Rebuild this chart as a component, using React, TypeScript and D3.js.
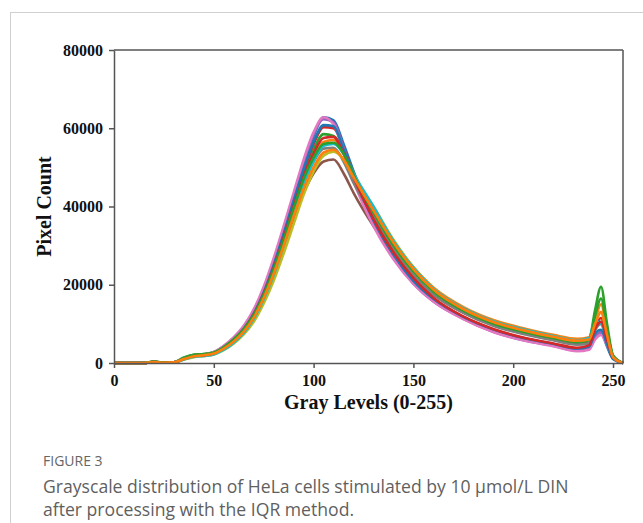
import React, { useEffect, useRef } from 'react';
import * as d3 from 'd3';

const grayLevels = [0, 15, 20, 24, 30, 35, 40, 45, 50, 55, 60, 65, 70, 75, 80, 85, 90, 95, 100, 105, 110, 115, 120, 130, 140, 150, 160, 175, 190, 205, 220, 232, 238, 241, 244, 247, 250, 255];
const xTicks = [0, 50, 100, 150, 200, 250];
const yTicks = [0, 20000, 40000, 60000, 80000];

const blue1 = [0, 0, 300, 100, 150, 1200, 1900, 2100, 2600, 4100, 6200, 9000, 13000, 18500, 25500, 33500, 42000, 50500, 58000, 62800, 62000, 56000, 49000, 36500, 27500, 20800, 16000, 11600, 8400, 6200, 4700, 3300, 3800, 6500, 7800, 4200, 1000, 0];
const orange1 = [0, 0, 250, 80, 150, 1000, 1700, 2000, 2400, 3700, 5500, 8000, 11500, 16500, 22500, 30000, 38000, 45500, 52000, 56500, 57000, 54000, 48500, 39500, 31000, 24500, 19300, 14300, 11000, 8900, 7200, 6200, 6600, 11000, 15000, 8000, 1800, 0];
const green1 = [0, 0, 350, 120, 200, 1400, 2100, 2300, 2800, 4200, 6200, 8800, 12500, 17800, 24500, 32000, 40000, 48000, 54500, 58500, 58000, 54500, 48500, 38500, 30000, 23500, 18500, 13700, 10400, 8300, 6600, 5600, 6000, 13500, 19500, 10000, 2000, 0];
const red1 = [0, 0, 300, 100, 150, 1100, 1800, 2000, 2600, 4000, 6000, 8800, 12800, 18200, 25000, 33000, 41000, 49000, 56000, 60300, 60000, 55000, 48000, 36000, 27200, 21000, 16200, 11500, 8200, 6000, 4500, 3500, 4200, 9000, 11500, 6500, 1500, 0];
const purple1 = [0, 0, 300, 100, 150, 1200, 2000, 2200, 2700, 4300, 6400, 9300, 13400, 19000, 26000, 34000, 42500, 51000, 58500, 62300, 61500, 55000, 47500, 35500, 26800, 20300, 15700, 11300, 8000, 5800, 4400, 3200, 3600, 6500, 8000, 5000, 1500, 0];
const brown1 = [0, 0, 250, 80, 150, 1000, 1700, 1900, 2400, 3700, 5600, 8200, 11800, 16800, 23000, 30000, 37000, 43500, 48500, 51500, 52000, 48500, 43500, 35000, 27800, 22000, 17500, 12900, 9700, 7700, 6000, 4900, 5200, 8500, 10500, 6000, 1500, 0];
const pink1 = [0, 0, 300, 120, 200, 1300, 2000, 2200, 2800, 4400, 6600, 9500, 13700, 19500, 26800, 35000, 43500, 52000, 59000, 62800, 61000, 54000, 46500, 35000, 26500, 20200, 15700, 11200, 7900, 5800, 4300, 3000, 3400, 6000, 7200, 4500, 1500, 0];
const gray1 = [0, 0, 250, 100, 150, 1100, 1800, 2000, 2500, 3800, 5800, 8400, 12000, 17200, 23500, 31000, 38500, 46000, 51500, 54800, 55000, 51500, 46000, 37500, 29000, 22500, 17500, 12800, 9500, 7400, 5800, 4700, 5000, 8500, 10000, 5800, 1500, 0];
const olive1 = [0, 0, 200, 80, 120, 900, 1500, 1800, 2200, 3300, 5000, 7300, 10500, 15200, 21000, 28000, 35500, 43000, 49000, 53000, 54000, 52000, 47500, 40000, 31500, 24500, 19000, 13900, 10600, 8500, 6800, 5800, 6200, 10500, 13000, 7000, 1500, 0];
const cyan1 = [0, 0, 250, 80, 150, 900, 1600, 1800, 2200, 3400, 5200, 7700, 11300, 16300, 22500, 30000, 38000, 45500, 51500, 55500, 56000, 53500, 48500, 40000, 31200, 24300, 19000, 14000, 10700, 8600, 6900, 5800, 6400, 10800, 10000, 6000, 1500, 0];
const blue2 = [0, 0, 300, 100, 150, 1100, 1800, 2000, 2500, 4000, 6000, 8700, 12600, 18000, 25000, 33000, 41500, 49500, 56500, 60800, 60500, 54500, 48000, 36500, 27800, 21000, 16400, 11800, 8600, 6400, 4900, 3700, 4200, 7500, 8500, 4800, 1200, 0];
const red2 = [0, 0, 300, 100, 150, 1100, 1800, 2000, 2500, 3900, 5900, 8600, 12400, 17700, 24300, 32000, 40000, 47500, 53500, 57500, 57800, 53500, 47500, 36800, 28300, 21700, 16700, 11900, 8700, 6500, 5000, 3900, 4500, 8800, 10500, 6000, 1500, 0];
const green2 = [0, 0, 350, 120, 200, 1300, 2100, 2300, 2700, 4100, 6100, 8700, 12300, 17500, 24000, 31500, 39500, 47000, 52500, 56000, 56300, 53500, 48000, 38500, 30000, 23400, 18300, 13400, 10100, 8000, 6400, 5300, 5800, 12000, 16500, 8500, 1800, 0];
const orange2 = [0, 0, 250, 80, 150, 1000, 1700, 2000, 2400, 3700, 5500, 8000, 11600, 16600, 22800, 30000, 37500, 44500, 50000, 53800, 54500, 52000, 47500, 39000, 30800, 24000, 18800, 13800, 10500, 8400, 6700, 5700, 6000, 10000, 13000, 7200, 1500, 0];

const seriesValues = [blue1, orange1, green1, red1, purple1, brown1, pink1, gray1, olive1, cyan1, blue2, red2, green2, orange2];
const seriesColors = ['#1f77b4', '#ff7f0e', '#2ca02c', '#d62728', '#9467bd', '#8c564b', '#e377c2', '#7f7f7f', '#bcbd22', '#17becf', '#1f77b4', '#d62728', '#2ca02c', '#ff7f0e'];

const W = 643;
const H = 523;
const left = 114, right = 623, top = 50, bottom = 363;

export default function App() {
  const ref = useRef<SVGSVGElement | null>(null);
  useEffect(() => {
    const svg = d3.select(ref.current);
    svg.selectAll('*').remove();

    // outer figure frame
    svg.append('line').attr('x1', 10).attr('x2', W).attr('y1', 12.5).attr('y2', 12.5).attr('stroke', '#d0d0d0').attr('stroke-width', 1);
    svg.append('line').attr('x1', 10.5).attr('x2', 10.5).attr('y1', 12).attr('y2', H).attr('stroke', '#d0d0d0').attr('stroke-width', 1);

    const x = d3.scaleLinear().domain([0, 255]).range([left, right]);
    const y = d3.scaleLinear().domain([0, 80000]).range([bottom, top]);

    const line = d3.line<number>()
      .x((_, i) => x(grayLevels[i]))
      .y((d) => y(d))
      .curve(d3.curveMonotoneX);

    const g = svg.append('g');
    seriesValues.forEach((vals, i) => {
      g.append('path')
        .attr('d', line(vals) as string)
        .attr('fill', 'none')
        .attr('stroke', seriesColors[i])
        .attr('stroke-width', 2.6)
        .attr('stroke-linejoin', 'round');
    });

    const axisColor = '#555';
    svg.append('line').attr('x1', left).attr('x2', right).attr('y1', top).attr('y2', top).attr('stroke', axisColor).attr('stroke-width', 1.5);
    svg.append('line').attr('x1', right).attr('x2', right).attr('y1', top).attr('y2', bottom).attr('stroke', axisColor).attr('stroke-width', 1.5);

    const font = '"Liberation Serif", "Times New Roman", serif';

    const xa = svg.append('g').attr('transform', `translate(0,${bottom})`)
      .call(d3.axisBottom(x).tickValues(xTicks).tickSize(5).tickSizeOuter(0).tickPadding(7).tickFormat(d3.format('d')));
    const ya = svg.append('g').attr('transform', `translate(${left},0)`)
      .call(d3.axisLeft(y).tickValues(yTicks).tickSize(5).tickSizeOuter(0).tickPadding(6).tickFormat(d3.format('d')));
    [xa, ya].forEach((a) => {
      a.select('.domain').attr('stroke', axisColor).attr('stroke-width', 1.5);
      a.selectAll('.tick line').attr('stroke', axisColor).attr('stroke-width', 1.5);
      a.selectAll('.tick text').attr('fill', '#111').attr('font-family', font).attr('font-weight', 'bold').attr('font-size', 16);
    });

    svg.append('text').attr('x', (left + right) / 2).attr('y', 409).attr('text-anchor', 'middle')
      .attr('font-family', font).attr('font-weight', 'bold').attr('font-size', 20).attr('fill', '#111')
      .text('Gray Levels (0-255)');
    svg.append('text').attr('transform', `translate(51,${(top + bottom) / 2}) rotate(-90)`).attr('text-anchor', 'middle')
      .attr('font-family', font).attr('font-weight', 'bold').attr('font-size', 20).attr('fill', '#111')
      .text('Pixel Count');

    const capFont = '"Open Sans", "Noto Sans", sans-serif';
    svg.append('text').attr('x', 43).attr('y', 466).attr('font-family', capFont).attr('font-size', 14).attr('fill', '#666')
      .text('FIGURE 3');
    svg.append('text').attr('x', 43).attr('y', 493).attr('font-family', capFont).attr('font-size', 17.6).attr('fill', '#5f5f5f')
      .text('Grayscale distribution of HeLa cells stimulated by 10 μmol/L DIN');
    svg.append('text').attr('x', 43).attr('y', 516).attr('font-family', capFont).attr('font-size', 17.6).attr('fill', '#5f5f5f')
      .text('after processing with the IQR method.');
  }, []);

  return (
    <svg ref={ref} width={W} height={H} style={{ position: 'absolute', left: 0, top: 0, background: '#fff' }} />
  );
}
